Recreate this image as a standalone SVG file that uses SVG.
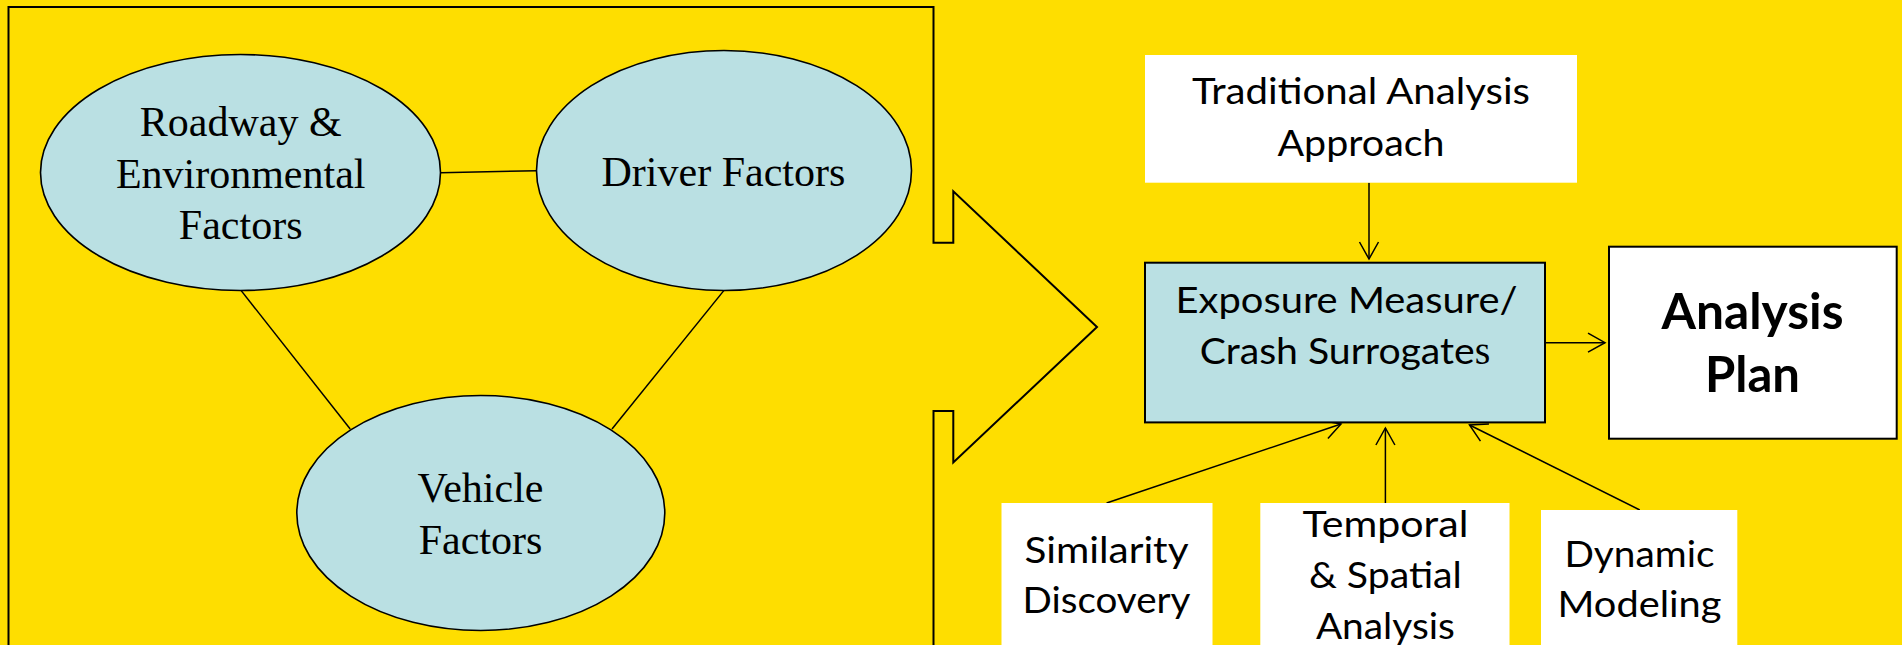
<svg xmlns="http://www.w3.org/2000/svg" width="1902" height="645" viewBox="0 0 1902 645">
  <defs>
    <style>
      .bg { fill: #FEDE00; }
      .frame { fill: none; stroke: #000; stroke-width: 2; stroke-linejoin: miter; }
      .factor { fill: #BAE0E3; stroke: #000; stroke-width: 1.6; }
      .serif { font-family: "Liberation Serif", "Times New Roman", serif; font-size: 42px; fill: #000; text-anchor: middle; }
      .sans { font-family: Lato, "Open Sans", "Liberation Sans", sans-serif; font-size: 37px; fill: #000; text-anchor: middle; }
      .bold { font-family: Lato, "Open Sans", "Liberation Sans", sans-serif; font-size: 50px; font-weight: bold; fill: #000; text-anchor: middle; }
      .plain { fill: #FFFFFF; stroke: none; }
      .boxed { fill: #FFFFFF; stroke: #000; stroke-width: 2; }
      .central { fill: #BAE0E3; stroke: #000; stroke-width: 2; }
      .link { stroke: #000; stroke-width: 1.5; fill: none; }
      .arrow { stroke: #000; stroke-width: 1.5; fill: none; marker-end: url(#head); }
    </style>
    <marker id="head" viewBox="-20 -12 22 24" markerWidth="22" markerHeight="24" markerUnits="userSpaceOnUse" refX="0" refY="0" orient="auto">
      <path d="M-17,-9.5 L0,0 L-17,9.5" fill="none" stroke="#000" stroke-width="1.5"/>
    </marker>
  </defs>

  <rect class="bg" x="0" y="0" width="1902" height="645"/>

  <!-- open frame around the factors, its right side folded into a block arrow -->
  <path class="frame" d="M8.5,650 L8.5,7 L933.5,7 L933.5,242.7 L953.3,242.7 L953.3,191.3 L1097,327 L953.3,462.5 L953.3,411 L933.5,411 L933.5,650"/>

  <!-- connectors -->
  <g id="connectors">
    <line class="link" x1="440.5" y1="172.8" x2="536.8" y2="170.7"/>
    <line class="link" x1="241" y1="290.4" x2="350.2" y2="429"/>
    <line class="link" x1="724" y1="290.4" x2="612" y2="429"/>
    <line class="arrow" x1="1369" y1="182.7" x2="1369" y2="259"/>
    <line class="arrow" x1="1545" y1="342.7" x2="1605" y2="342.7"/>
    <line class="arrow" x1="1106.6" y1="503" x2="1341" y2="424"/>
    <line class="arrow" x1="1385.4" y1="503" x2="1385.4" y2="428"/>
    <line class="arrow" x1="1639.8" y1="510" x2="1469.5" y2="425"/>
  </g>

  <g id="roadway">
    <ellipse class="factor" cx="240.5" cy="172.5" rx="200" ry="118"/>
    <text class="serif" x="240.7" y="135.7">Roadway &amp;</text>
    <text class="serif" x="240.7" y="188.4">Environmental</text>
    <text class="serif" x="240.7" y="238.6">Factors</text>
  </g>

  <g id="driver">
    <ellipse class="factor" cx="724" cy="170.5" rx="187.5" ry="120"/>
    <text class="serif" x="723.4" y="186">Driver Factors</text>
  </g>

  <g id="vehicle">
    <ellipse class="factor" cx="480.8" cy="513" rx="184" ry="117.5"/>
    <text class="serif" x="480.5" y="502">Vehicle</text>
    <text class="serif" x="480.5" y="554">Factors</text>
  </g>

  <g id="traditional">
    <rect class="plain" x="1145" y="55" width="432" height="127.7"/>
    <text class="sans" x="1361" y="104.3" textLength="338" lengthAdjust="spacingAndGlyphs">Traditional Analysis</text>
    <text class="sans" x="1361" y="156" textLength="167" lengthAdjust="spacingAndGlyphs">Approach</text>
  </g>

  <g id="exposure">
    <rect class="central" x="1145" y="262.7" width="400" height="159.7"/>
    <text class="sans" x="1346.5" y="313.3" textLength="342" lengthAdjust="spacingAndGlyphs">Exposure Measure/</text>
    <text class="sans" x="1345" y="364"><tspan textLength="275" lengthAdjust="spacingAndGlyphs">Crash Surrogate</tspan><tspan font-family="Liberation Serif, serif" font-size="40px">s</tspan></text>
  </g>

  <g id="plan">
    <rect class="boxed" x="1609" y="246.7" width="287.7" height="192"/>
    <text class="bold" x="1752.5" y="329" textLength="182" lengthAdjust="spacingAndGlyphs">Analysis</text>
    <text class="bold" x="1752.5" y="392.3" textLength="95" lengthAdjust="spacingAndGlyphs">Plan</text>
  </g>

  <g id="similarity">
    <rect class="plain" x="1001.5" y="503" width="211" height="150"/>
    <text class="sans" x="1106.5" y="563.3" textLength="164" lengthAdjust="spacingAndGlyphs">Similarity</text>
    <text class="sans" x="1106.5" y="613.3" textLength="168" lengthAdjust="spacingAndGlyphs">Discovery</text>
  </g>

  <g id="temporal">
    <rect class="plain" x="1260.3" y="503" width="249.2" height="150"/>
    <text class="sans" x="1385.4" y="537.3" textLength="166" lengthAdjust="spacingAndGlyphs">Temporal</text>
    <text class="sans" x="1385.4" y="588.3" textLength="153" lengthAdjust="spacingAndGlyphs">&amp; Spatial</text>
    <text class="sans" x="1385.4" y="638.5" textLength="139" lengthAdjust="spacingAndGlyphs">Analysis</text>
  </g>

  <g id="dynamic">
    <rect class="plain" x="1541" y="510" width="196.3" height="150"/>
    <text class="sans" x="1639.5" y="566.7" textLength="150" lengthAdjust="spacingAndGlyphs">Dynamic</text>
    <text class="sans" x="1639.5" y="617.3" textLength="164" lengthAdjust="spacingAndGlyphs">Modeling</text>
  </g>
</svg>
